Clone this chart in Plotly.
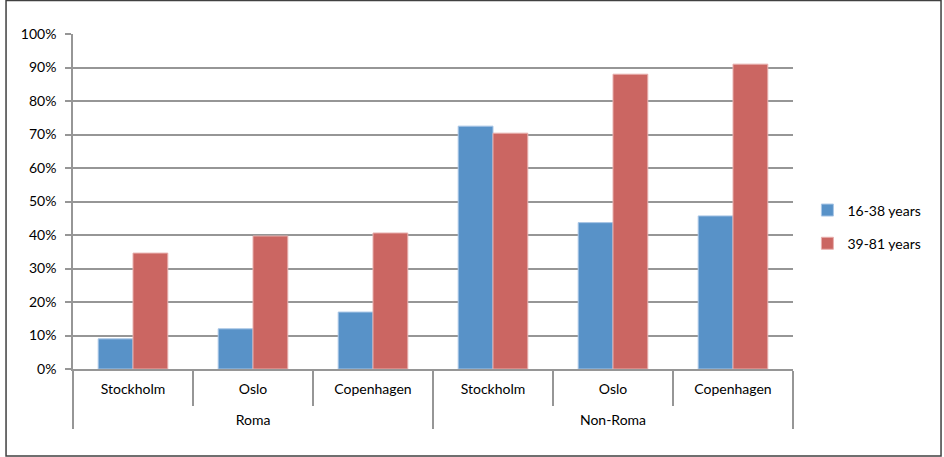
import plotly.graph_objects as go

groups = ["<br>Roma", "<br>Roma", "<br>Roma", "<br>Non-Roma", "<br>Non-Roma", "<br>Non-Roma"]
cities = ["Stockholm", "Oslo", "Copenhagen", "Stockholm", "Oslo", "Copenhagen"]
young = [0.09, 0.12, 0.17, 0.725, 0.437, 0.457]
old = [0.346, 0.397, 0.406, 0.704, 0.88, 0.91]
ytick_vals = [0, 0.1, 0.2, 0.3, 0.4, 0.5, 0.6, 0.7, 0.8, 0.9, 1.0]

font = dict(family="Lato, Open Sans, sans-serif", size=14, color="#000000")

fig = go.Figure()
fig.add_trace(go.Bar(x=[groups, cities], y=young, name="16-38 years", legendgroup="a",
                     marker=dict(color="#5892C8", line=dict(color="#A9C6E6", width=1))))
fig.add_trace(go.Bar(x=[groups, cities], y=old, name="39-81 years", legendgroup="b",
                     marker=dict(color="#CB6662", line=dict(color="#E8B0AE", width=1))))

fig.update_layout(
    width=944, height=457,
    margin=dict(l=73, r=151, t=34, b=88),
    paper_bgcolor="white", plot_bgcolor="white",
    font=font,
    barmode="group", bargap=0.42, bargroupgap=0,
    showlegend=True,
    legend=dict(x=1.02, y=0.424, xanchor="left", yanchor="middle",
                font=dict(size=14), tracegroupgap=12,
                bgcolor="rgba(0,0,0,0)"),
)
fig.update_xaxes(
    type="multicategory",
    showline=True, linecolor="#969696", linewidth=1.5,
    ticks="outside", tickson="boundaries", ticklen=35, tickcolor="#969696", tickwidth=1.5,
    ticklabelstandoff=6,
    showdividers=True, dividercolor="#969696", dividerwidth=1.5,
    showgrid=False,
)
fig.update_yaxes(
    range=[0, 1.0], tickvals=ytick_vals, tickformat=".0%",
    showgrid=True, gridcolor="#969696", gridwidth=1.5,
    showline=True, linecolor="#969696", linewidth=1.5,
    ticks="outside", ticklen=6, tickcolor="#969696", tickwidth=1.5,
    ticklabelstandoff=6,
    zeroline=False,
)

# outer chart frame
fig.add_shape(type="rect", xref="paper", yref="paper",
              x0=-0.093, x1=1.2056, y0=-0.26, y1=1.1,
              line=dict(color="#404040", width=1.5), layer="below")

fig.write_html("out.html", config={"displayModeBar": False},
               post_script="document.body.style.margin='0';")
